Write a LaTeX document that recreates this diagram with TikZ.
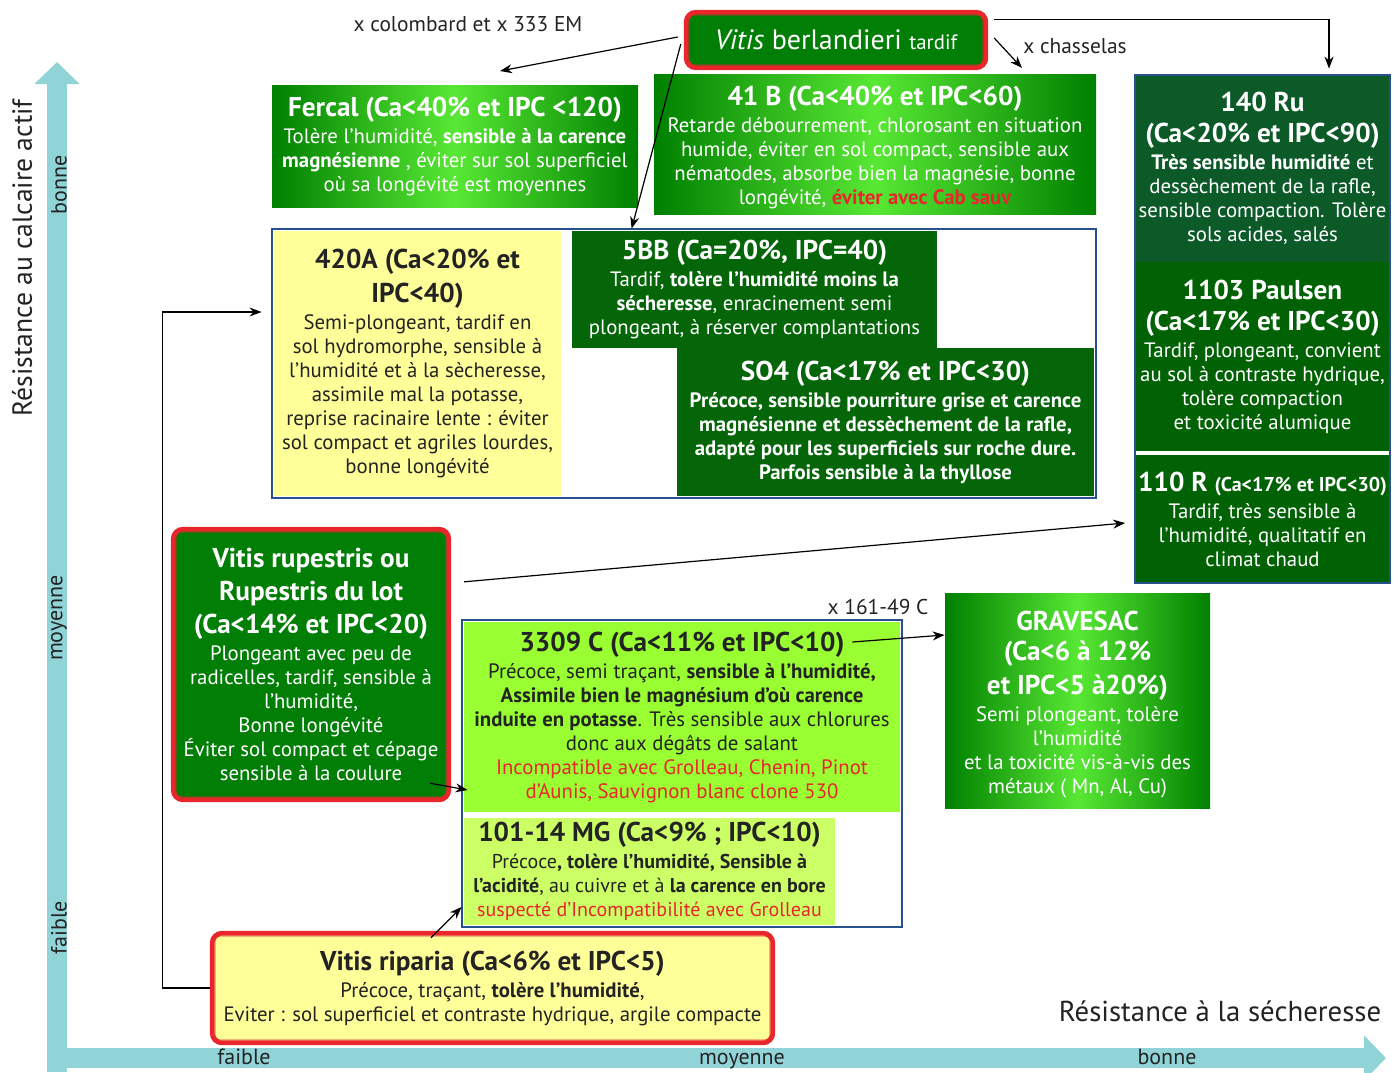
\documentclass[tikz,border=0pt]{standalone}
\usepackage{fontspec}
\setmainfont{PT Sans}
\usetikzlibrary{positioning}
\usetikzlibrary{arrows.meta}
\usetikzlibrary{shapes}

\definecolor{gdark}{RGB}{0,128,0}
\definecolor{glight}{RGB}{88,232,52}
\definecolor{berlgreen}{RGB}{0,126,6}
\definecolor{rugreen}{RGB}{12,90,40}
\definecolor{pgreen}{RGB}{0,98,4}
\definecolor{bbgreen}{RGB}{4,102,8}
\definecolor{paleyellow}{RGB}{255,255,153}
\definecolor{lime}{RGB}{153,255,51}
\definecolor{palelime}{RGB}{204,255,102}
\definecolor{frameblue}{RGB}{40,80,140}
\definecolor{vred}{RGB}{232,38,44}
\definecolor{axisteal}{RGB}{145,212,216}
\definecolor{darktext}{RGB}{35,35,35}

\newcommand{\boxtitle}{\fontsize{13.6}{15}\selectfont\bfseries}

\tikzset{
        boxnode/.style={align=center,inner sep=0pt,font=\fontsize{10.4}{12}\selectfont},
        % Gradient green boxes
        box_grad/.style={boxnode, text=white, left color=gdark, right color=gdark, middle color=glight},
        % Plain dark boxes
        box_dark/.style={boxnode, text=white},
        % Light boxes
        box_light/.style={boxnode, text=darktext},
        % Species boxes (red frame)
        box_species/.style={boxnode, draw=vred, line width=2.2pt, rounded corners=5pt},
        inner_red/.style={draw=vred, line width=0.5pt, rounded corners=3pt},
        % Blue frames
        frame_blue/.style={draw=frameblue, line width=1pt},
        % Connectors
        conn/.style={-{Stealth[length=6pt,width=4.5pt]}, line width=0.6pt, black},
        cross_label/.style={font=\fontsize{10.7}{12}\selectfont, text=darktext, inner sep=0pt},
        axis_arrow/.style={draw=axisteal, line width=10pt, -{Triangle[length=11pt,width=22pt]}},
        axis_label/.style={font=\fontsize{11}{12}\selectfont, text=darktext, inner sep=0pt}
}

\begin{document}
\begin{tikzpicture}[x=0.5pt, y=-0.5pt]
            \useasboundingbox (0,0) rectangle (1395,1072);
            % axes
            \draw[axis_arrow] (57,1072) -- (57,62);
            \draw[axis_arrow] (47,1058) -- (1386,1058);
            \node[axis_label, rotate=90, font=\fontsize{13.8}{15}\selectfont] (yaxis) at (22,258) {Résistance au calcaire actif};
            \node[axis_label, rotate=90] (ybonne) at (59,185) {bonne};
            \node[axis_label, rotate=90] (ymoy) at (59,618) {moyenne};
            \node[axis_label, rotate=90] (yfaible) at (59,928) {faible};
            \node[axis_label, anchor=base] (xfaible) at (244,1064) {faible};
            \node[axis_label, anchor=base] (xmoy) at (742,1064) {moyenne};
            \node[axis_label, anchor=base] (xbonne) at (1167,1064) {bonne};
            \node[axis_label, font=\fontsize{14.4}{16}\selectfont] (xaxis) at (1220,1011) {Résistance à la sécheresse};

            % top row
            \node[box_species, fill=berlgreen, text=white, minimum width=150pt, minimum height=28pt] (berl) at (836,40)
                {\fontsize{14}{15}\selectfont\textit{Vitis} berlandieri {\fontsize{10.4}{12}\selectfont tardif}};
            \draw[inner_red] ([shift={(2.5pt,2.5pt)}]berl.south west) rectangle ([shift={(-2.5pt,-2.5pt)}]berl.north east);
            \node[box_grad, minimum width=183pt, minimum height=61pt] (fercal) at (455,146)
                {{\boxtitle Fercal (Ca<40\% et IPC <120)}\\[1.5pt]
                 Tolère  l’humidité, \textbf{sensible à la carence}\\
                 \textbf{magnésienne} , éviter sur sol superficiel\\
                 où sa longévité est moyennes};
            \node[box_grad, minimum width=221pt, minimum height=70pt] (b41) at (875,144)
                {\rule{0pt}{4pt}\\[-3pt]
                 {\boxtitle 41 B (Ca<40\% et IPC<60)}\\[1.5pt]
                 Retarde débourrement, chlorosant en situation\\
                 humide, éviter en sol compact, sensible aux\\
                 nématodes, absorbe bien la magnésie, bonne\\
                 longévité, \textcolor{vred}{\bfseries éviter avec Cab sauv}};

            % right column
            \node[box_dark, fill=rugreen, minimum width=127pt, minimum height=93.5pt] (ru140) at (1262.5,168.5)
                {{\boxtitle 140 Ru}\\[3.5pt]
                 {\boxtitle (Ca<20\% et IPC<90)}\\[1.5pt]
                 \textbf{Très sensible humidité} et\\
                 dessèchement de la rafle,\\
                 sensible compaction. Tolère\\
                 sols acides, salés};
            \node[box_dark, fill=pgreen, minimum width=127pt, minimum height=95pt] (paulsen) at (1262.5,357)
                {{\boxtitle 1103 Paulsen}\\[3.5pt]
                 {\boxtitle (Ca<17\% et IPC<30)}\\[1.5pt]
                 Tardif, plongeant, convient\\
                 au sol à contraste hydrique,\\
                 tolère compaction\\
                 et toxicité alumique};
            \node[box_dark, fill=pgreen, minimum width=127pt, minimum height=64pt] (r110) at (1262.5,519)
                {{\boxtitle 110 R {\fontsize{10}{12}\selectfont (Ca<17\% et IPC<30)}}\\[1.5pt]
                 Tardif,  très sensible à\\
                 l’humidité, qualitatif en\\
                 climat chaud};
            \draw[white, line width=1.5pt] (paulsen.south west) -- (paulsen.south east);
            \draw[frame_blue] (ru140.north west) rectangle (r110.south east);

            % middle frame
            \draw[frame_blue] (272,229) rectangle (1096,498);
            \node[box_light, fill=paleyellow, minimum width=143.5pt, minimum height=132.5pt] (a420) at (417.5,363.5)
                {{\boxtitle 420A (Ca<20\% et}\\[3.5pt]
                 {\boxtitle IPC<40)}\\[1.5pt]
                 Semi-plongeant, tardif en\\
                 sol hydromorphe, sensible à\\
                 l’humidité et à la sècheresse,\\
                 assimile mal la potasse,\\
                 reprise racinaire lente : éviter\\
                 sol compact et agriles lourdes,\\
                 bonne longévité};
            \node[box_dark, fill=bbgreen, minimum width=182.5pt, minimum height=58.5pt] (bb5) at (754.5,289.5)
                {{\boxtitle 5BB (Ca=20\%, IPC=40)}\\[1.5pt]
                 Tardif, \textbf{tolère l’humidité moins la}\\
                 \textbf{sécheresse},  enracinement semi\\
                 plongeant, à réserver complantations};
            \node[box_dark, fill=bbgreen, minimum width=208.5pt, minimum height=74pt] (so4) at (885.5,422)
                {{\boxtitle SO4 (Ca<17\% et IPC<30)}\\[1.5pt]
                 \bfseries Précoce, sensible pourriture grise et carence\\
                 \bfseries magnésienne et dessèchement de la rafle,\\
                 \bfseries adapté pour les superficiels sur roche dure.\\
                 \bfseries Parfois sensible à la thyllose};

            % rupestris
            \node[box_species, fill=berlgreen, text=white, minimum width=138pt, minimum height=135.5pt] (rup) at (311,664.5)
                {{\boxtitle Vitis rupestris ou}\\[3pt]
                 {\boxtitle Rupestris du lot}\\[3pt]
                 {\boxtitle (Ca<14\% et IPC<20)}\\[1.5pt]
                 Plongeant avec peu de\\
                 radicelles, tardif, sensible à\\
                 l’humidité,\\
                 Bonne longévité\\
                 Éviter sol compact et cépage\\
                 sensible à la coulure};
            \draw[inner_red] ([shift={(2.5pt,2.5pt)}]rup.south west) rectangle ([shift={(-2.5pt,-2.5pt)}]rup.north east);

            % lower frame
            \draw[frame_blue] (462,620) rectangle (902,927);
            \node[box_light, fill=lime, minimum width=218pt, minimum height=95pt] (c3309) at (682,717)
                {{\boxtitle 3309 C (Ca<11\% et IPC<10)}\\[1.5pt]
                 Précoce, semi traçant, \textbf{sensible à l’humidité,}\\
                 \textbf{Assimile bien le magnésium d’où carence}\\
                 \textbf{induite en potasse}. Très sensible aux chlorures\\
                 donc aux dégâts de salant\\
                 \textcolor{vred}{Incompatible avec Grolleau, Chenin, Pinot}\\
                 \textcolor{vred}{d’Aunis, Sauvignon blanc clone 530}};
            \node[box_light, fill=palelime, minimum width=185.5pt, minimum height=53.5pt, font=\fontsize{10}{12}\selectfont] (mg101) at (649.5,871.5)
                {{\boxtitle 101-14 MG (Ca<9\% ; IPC<10)}\\[1.5pt]
                 Précoce\textbf{, tolère l’humidité, Sensible à}\\
                 \textbf{l’acidité}, au cuivre et à \textbf{la carence en bore}\\
                 \textcolor{vred}{suspecté d’Incompatibilité avec Grolleau}};
            \node[box_grad, minimum width=132.5pt, minimum height=107.5pt] (grav) at (1077.5,700.5)
                {\rule{0pt}{4pt}\\[-2pt]
                 {\boxtitle GRAVESAC}\\[3pt]
                 {\boxtitle (Ca<6 à 12\%}\\[3pt]
                 {\boxtitle et IPC<5 à20\%)}\\[1.5pt]
                 Semi plongeant, tolère\\
                 l’humidité\\
                 et la toxicité vis-à-vis des\\
                 métaux  ( Mn, Al, Cu)};

            % riparia
            \node[box_species, fill=paleyellow, text=darktext, minimum width=280.5pt, minimum height=55pt] (rip) at (492.5,988)
                {{\boxtitle Vitis riparia (Ca<6\% et IPC<5)}\\[1.5pt]
                 Précoce, traçant, \textbf{tolère l’humidité},\\
                 Eviter : sol superficiel et contraste hydrique, argile compacte};
            \draw[inner_red] ([shift={(2.5pt,2.5pt)}]rip.south west) rectangle ([shift={(-2.5pt,-2.5pt)}]rip.north east);

            % crossings
            \coordinate (c_fercal) at (500,71);
            \coordinate (c_5bb) at ([shift={(30pt,1pt)}]bb5.north west);
            \coordinate (c_b41) at (1022,68);
            \coordinate (c_ru) at ([shift={(33.25pt,3pt)}]ru140.north);
            \coordinate (c_a420) at ([shift={(-6pt,25.75pt)}]a420.west);
            \draw[conn] ([shift={(-3pt,1.5pt)}]berl.west) -- (c_fercal);
            \draw[conn] ([shift={(-1.5pt,-2pt)}]berl.west) -- (c_5bb);
            \draw[conn] ([shift={(3pt,1pt)}]berl.east) -- (c_b41);
            \draw[conn] ([shift={(3pt,-5pt)}]berl.north east) -| (c_ru);
            \draw[conn] (rip.west) -- ++(-23.5pt,0pt) |- (c_a420);
            \draw[conn] ([shift={(-30.75pt,-3.5pt)}]rip.north) -- ([shift={(-1pt,-17.75pt)}]mg101.west);
            \draw[conn] ([shift={(-10.5pt,9.5pt)}]rup.south east) -- ([shift={(2pt,-36.5pt)}]c3309.west);
            \draw[conn] ([shift={(6.5pt,-27.5pt)}]rup.north east) -- ([shift={(-5pt,-2pt)}]r110.west);
            \draw[conn] ([shift={(-24pt,37.5pt)}]c3309.east) -- ([shift={(0pt,32.75pt)}]grav.west);
            \node[cross_label] (l_colombard) at (468,24) {x colombard et x 333 EM};
            \node[cross_label] (l_chasselas) at (1075,46) {x chasselas};
            \node[cross_label] (l_16149) at (878,607) {x 161-49 C};
        \end{tikzpicture}
\end{document}
